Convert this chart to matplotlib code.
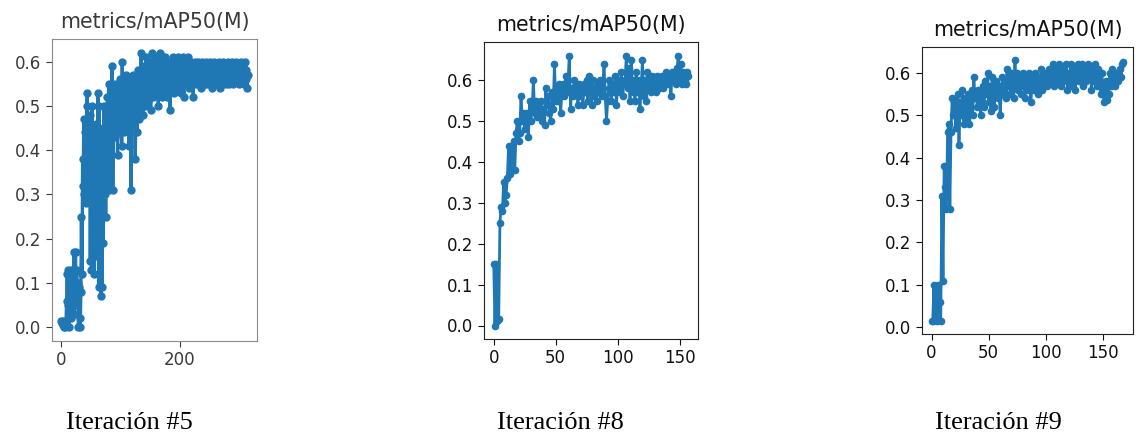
import matplotlib
matplotlib.use("Agg")
import matplotlib.pyplot as plt
import numpy as np

title = "metrics/mAP50(M)"
captions = ["Iteración #5", "Iteración #8", "Iteración #9"]

map_it5 = [
    0.015, 0.01, 0.005, 0.015, 0.0, 0.01, 0.005, 0.0, 0.015, 0.06,
    0.12, 0.05, 0.13, 0.0, 0.10, 0.06, 0.13, 0.02, 0.08, 0.12,
    0.05, 0.17, 0.03, 0.10, 0.17, 0.07, 0.13, 0.05, 0.10, 0.0,
    0.09, 0.02, 0.0, 0.08, 0.25, 0.12, 0.38, 0.32, 0.47, 0.30,
    0.44, 0.28, 0.40, 0.50, 0.53, 0.35, 0.45, 0.29, 0.48, 0.15,
    0.40, 0.13, 0.50, 0.22, 0.45, 0.12, 0.38, 0.25, 0.46, 0.16,
    0.44, 0.30, 0.53, 0.09, 0.50, 0.20, 0.40, 0.07, 0.33, 0.09,
    0.45, 0.19, 0.50, 0.30, 0.42, 0.25, 0.48, 0.36, 0.52, 0.40,
    0.55, 0.31, 0.49, 0.42, 0.53, 0.44, 0.59, 0.31, 0.50, 0.45,
    0.55, 0.43, 0.50, 0.46, 0.54, 0.39, 0.48, 0.52, 0.44, 0.56,
    0.47, 0.53, 0.41, 0.60, 0.48, 0.55, 0.44, 0.52, 0.49, 0.57,
    0.45, 0.54, 0.50, 0.56, 0.41, 0.52, 0.48, 0.55, 0.31, 0.50,
    0.53, 0.46, 0.57, 0.49, 0.55, 0.38, 0.51, 0.56, 0.44, 0.54,
    0.58, 0.47, 0.53, 0.55, 0.50, 0.62, 0.52, 0.56, 0.48, 0.59,
    0.53, 0.57, 0.50, 0.61, 0.54, 0.58, 0.51, 0.56, 0.60, 0.53,
    0.57, 0.49, 0.59, 0.55, 0.62, 0.52, 0.57, 0.54, 0.60, 0.56,
    0.53, 0.58, 0.61, 0.55, 0.50, 0.59, 0.56, 0.62, 0.54, 0.58,
    0.52, 0.57, 0.60, 0.55, 0.58, 0.53, 0.61, 0.56, 0.59, 0.52,
    0.57, 0.60, 0.54, 0.58, 0.49, 0.56, 0.59, 0.55, 0.61, 0.57,
    0.53, 0.58, 0.60, 0.56, 0.54, 0.59, 0.57, 0.61, 0.55, 0.58,
    0.56, 0.60, 0.53, 0.58, 0.55, 0.61, 0.57, 0.52, 0.59, 0.56,
    0.58, 0.60, 0.55, 0.57, 0.61, 0.54, 0.59, 0.56, 0.58, 0.60,
    0.55, 0.57, 0.59, 0.52, 0.58, 0.56, 0.60, 0.57, 0.55, 0.59,
    0.57, 0.60, 0.55, 0.58, 0.56, 0.59, 0.54, 0.58, 0.60, 0.56,
    0.58, 0.55, 0.59, 0.57, 0.60, 0.55, 0.58, 0.56, 0.59, 0.57,
    0.55, 0.58, 0.60, 0.56, 0.58, 0.54, 0.59, 0.57, 0.60, 0.55,
    0.58, 0.56, 0.59, 0.57, 0.55, 0.58, 0.60, 0.56, 0.58, 0.54,
    0.59, 0.57, 0.55, 0.58, 0.60, 0.56, 0.58, 0.57, 0.59, 0.55,
    0.58, 0.56, 0.60, 0.57, 0.55, 0.59, 0.57, 0.58, 0.56, 0.60,
    0.55, 0.58, 0.57, 0.59, 0.56, 0.58, 0.60, 0.56, 0.58, 0.57,
    0.59, 0.55, 0.58, 0.57, 0.60, 0.56, 0.58, 0.59, 0.57, 0.55,
    0.58, 0.60, 0.56, 0.58, 0.54, 0.57,
]

map_it8 = [
    0.15, 0.00, 0.15, 0.01, 0.015, 0.25, 0.29, 0.28, 0.35, 0.30,
    0.32, 0.36, 0.44, 0.37, 0.44, 0.38, 0.45, 0.38, 0.47, 0.50,
    0.45, 0.47, 0.56, 0.50, 0.52, 0.48, 0.52, 0.50, 0.46, 0.55,
    0.50, 0.53, 0.60, 0.52, 0.55, 0.51, 0.54, 0.52, 0.55, 0.50,
    0.53, 0.49, 0.58, 0.54, 0.56, 0.52, 0.50, 0.57, 0.53, 0.64,
    0.55, 0.58, 0.55, 0.59, 0.52, 0.57, 0.59, 0.56, 0.61, 0.57,
    0.60, 0.66, 0.53, 0.58, 0.56, 0.60, 0.57, 0.58, 0.54, 0.59,
    0.56, 0.58, 0.54, 0.59, 0.57, 0.60, 0.55, 0.61, 0.58, 0.54,
    0.60, 0.56, 0.58, 0.55, 0.59, 0.57, 0.60, 0.56, 0.58, 0.64,
    0.56, 0.50, 0.55, 0.60, 0.58, 0.55, 0.59, 0.57, 0.61, 0.54,
    0.58, 0.60, 0.57, 0.62, 0.56, 0.59, 0.60, 0.66, 0.58, 0.63,
    0.55, 0.65, 0.57, 0.60, 0.55, 0.62, 0.57, 0.60, 0.53, 0.58,
    0.65, 0.56, 0.60, 0.55, 0.62, 0.58, 0.60, 0.57, 0.61, 0.58,
    0.60, 0.57, 0.61, 0.58, 0.60, 0.59, 0.61, 0.58, 0.60, 0.62,
    0.59, 0.61, 0.60, 0.56, 0.62, 0.60, 0.61, 0.59, 0.63, 0.66,
    0.60, 0.64, 0.59, 0.62, 0.60, 0.59, 0.62, 0.61,
]

map_it9 = [
    0.015, 0.015, 0.10, 0.02, 0.09, 0.015, 0.10, 0.06, 0.015, 0.31,
    0.11, 0.38, 0.33, 0.28, 0.46, 0.48, 0.28, 0.46, 0.54, 0.50,
    0.53, 0.47, 0.52, 0.55, 0.43, 0.53, 0.50, 0.56, 0.48, 0.54,
    0.52, 0.49, 0.55, 0.48, 0.53, 0.56, 0.50, 0.59, 0.54, 0.55,
    0.52, 0.56, 0.54, 0.50, 0.55, 0.57, 0.52, 0.58, 0.55, 0.60,
    0.53, 0.57, 0.51, 0.59, 0.55, 0.52, 0.58, 0.56, 0.54, 0.57,
    0.50, 0.55, 0.59, 0.56, 0.58, 0.54, 0.61, 0.57, 0.59, 0.55,
    0.60, 0.58, 0.54, 0.63, 0.57, 0.60, 0.56, 0.59, 0.55, 0.58,
    0.60, 0.57, 0.54, 0.59, 0.56, 0.60, 0.57, 0.53, 0.58, 0.59,
    0.56, 0.60, 0.58, 0.55, 0.59, 0.57, 0.61, 0.56, 0.59, 0.58,
    0.60, 0.57, 0.59, 0.61, 0.58, 0.60, 0.62, 0.57, 0.60, 0.58,
    0.61, 0.59, 0.62, 0.57, 0.60, 0.58, 0.61, 0.59, 0.62, 0.56,
    0.60, 0.58, 0.62, 0.57, 0.61, 0.59, 0.56, 0.60, 0.62, 0.58,
    0.61, 0.59, 0.62, 0.57, 0.60, 0.58, 0.61, 0.62, 0.59, 0.61,
    0.56, 0.60, 0.58, 0.62, 0.59, 0.57, 0.61, 0.58, 0.55, 0.60,
    0.57, 0.53, 0.56, 0.58, 0.535, 0.55, 0.60, 0.57, 0.61, 0.58,
    0.59, 0.57, 0.60, 0.58, 0.59, 0.61, 0.59, 0.62, 0.625,
]

W, H = 1136, 434
fig = plt.figure(figsize=(W / 100, H / 100), dpi=100)
fig.patch.set_facecolor("white")

# axes boxes in pixels: left, right, top, bottom
boxes = [(52, 257, 39, 341), (484, 698, 42, 339), (922, 1133, 47, 334)]
series = [map_it5, map_it8, map_it9]
xticks = [[0, 200], [0, 50, 100, 150], [0, 50, 100, 150]]
cap_x = [129, 560, 998]
text_colors = ["#3a3a3a", "#111111", "#111111"]
frame_colors = ["#8a8a8a", "#222222", "#222222"]
msizes = [5.0, 4.5, 4.5]
lwidths = [2.4, 2.0, 2.0]

for i, (box, ys) in enumerate(zip(boxes, series)):
    l, r, t, b = box
    ax = fig.add_axes([l / W, 1 - b / H, (r - l) / W, (b - t) / H])
    x = np.arange(len(ys))
    ax.plot(x, ys, color="#1f77b4", marker="o", markersize=msizes[i],
            linewidth=lwidths[i])
    ax.set_xticks(xticks[i])
    ax.set_yticks([0.0, 0.1, 0.2, 0.3, 0.4, 0.5, 0.6])
    ax.tick_params(labelsize=12, colors=text_colors[i], length=4)
    ax.set_title(title, fontsize=14.8, color=text_colors[i], pad=8)
    for s in ax.spines.values():
        s.set_color(frame_colors[i])
    fig.text(cap_x[i] / W, 1 - 429 / H, captions[i], ha="center", va="baseline",
             fontsize=19, family="Liberation Serif", color="black")

fig.savefig("out.png", dpi=100)
